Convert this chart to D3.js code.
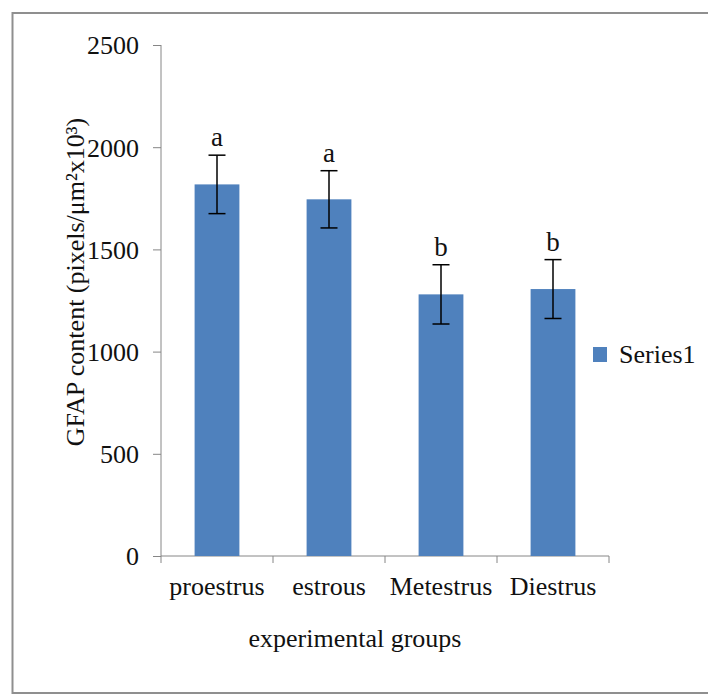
<!DOCTYPE html>
<html>
<head>
<meta charset="utf-8">
<script src="https://cdn.jsdelivr.net/npm/d3@7"></script>
<style>
  html, body { margin: 0; padding: 0; background: #fff; }
  svg { display: block; }
  svg text { font-family: "Liberation Serif", "DejaVu Serif", serif !important; fill: #111; }
</style>
</head>
<body>
<div id="chart"></div>
<script>
// data
const groups = ["proestrus", "estrous", "Metestrus", "Diestrus"]
const means = [1818, 1745, 1280, 1306]
const errors = [143, 140, 145, 144]
const letters = ["a", "a", "b", "b"]
const yTicks = [0, 500, 1000, 1500, 2000, 2500]
const seriesName = "Series1"

const width = 708, height = 695
const plot = { left: 161, right: 609, top: 45, bottom: 556 }
const serif = "Liberation Serif, serif"

const svg = d3.select("#chart").append("svg")
    .attr("width", width)
    .attr("height", height)
    .attr("font-family", serif)

// outer frame
svg.append("rect")
    .attr("x", 12.5).attr("y", 13)
    .attr("width", 720).attr("height", 680)
    .attr("fill", "none")
    .attr("stroke", "#8f8f8f")
    .attr("stroke-width", 2)

const x = d3.scaleBand()
    .domain(groups)
    .range([plot.left, plot.right])

const y = d3.scaleLinear()
    .domain([0, 2500])
    .range([plot.bottom, plot.top])

const barW = x.bandwidth() / 2.5
const barColor = "#4f81bd"

// y axis
svg.append("g")
    .attr("transform", `translate(${plot.left},0)`)
    .call(d3.axisLeft(y).tickValues(yTicks).tickSize(8).tickPadding(14).tickFormat(d3.format("d")))
    .attr("font-family", serif)
    .attr("font-size", 26)
    .call(g => g.select(".domain").attr("stroke", "#868686").attr("d", `M0,${plot.top}V${plot.bottom}`))
    .call(g => g.selectAll(".tick line").attr("stroke", "#868686"))
    .call(g => g.selectAll(".tick text")
        .attr("fill", "#111")
        .attr("dy", "0.34em"))

// x axis: ticks sit on the category boundaries
const boundaries = groups.map(d => x(d)).concat([plot.right])
const xAxis = svg.append("g")
xAxis.append("line")
    .attr("x1", plot.left).attr("x2", plot.right)
    .attr("y1", plot.bottom).attr("y2", plot.bottom)
    .attr("stroke", "#868686")
xAxis.selectAll("line.tick")
    .data(boundaries)
    .join("line")
    .attr("class", "tick")
    .attr("x1", d => d).attr("x2", d => d)
    .attr("y1", plot.bottom).attr("y2", plot.bottom + 7)
    .attr("stroke", "#868686")
xAxis.selectAll("text")
    .data(groups)
    .join("text")
    .attr("x", d => x(d) + x.bandwidth() / 2)
    .attr("y", 595)
    .attr("text-anchor", "middle")
    .attr("font-size", 26)
    .text(d => d)

// bars
svg.selectAll("rect.bar")
    .data(groups)
    .join("rect")
    .attr("class", "bar")
    .attr("x", d => x(d) + (x.bandwidth() - barW) / 2)
    .attr("width", barW)
    .attr("y", (d, i) => y(means[i]))
    .attr("height", (d, i) => y(0) - y(means[i]))
    .attr("fill", barColor)

// error bars
const cap = 8.5
const eb = svg.selectAll("g.err")
    .data(groups)
    .join("g")
    .attr("class", "err")
    .attr("transform", d => `translate(${x(d) + x.bandwidth() / 2},0)`)
eb.append("line")
    .attr("y1", (d, i) => y(means[i] + errors[i]))
    .attr("y2", (d, i) => y(means[i] - errors[i]))
    .attr("stroke", "#000").attr("stroke-width", 1.5)
eb.append("line")
    .attr("x1", -cap).attr("x2", cap)
    .attr("y1", (d, i) => y(means[i] + errors[i]))
    .attr("y2", (d, i) => y(means[i] + errors[i]))
    .attr("stroke", "#000").attr("stroke-width", 1.5)
eb.append("line")
    .attr("x1", -cap).attr("x2", cap)
    .attr("y1", (d, i) => y(means[i] - errors[i]))
    .attr("y2", (d, i) => y(means[i] - errors[i]))
    .attr("stroke", "#000").attr("stroke-width", 1.5)

// significance letters
eb.append("text")
    .attr("y", (d, i) => y(means[i] + errors[i]) - 9)
    .attr("text-anchor", "middle")
    .attr("font-size", 27)
    .text((d, i) => letters[i])

// axis titles
svg.append("text")
    .attr("transform", "translate(84,282) rotate(-90)")
    .attr("text-anchor", "middle")
    .attr("font-size", 26)
    .text("GFAP content (pixels/μm²x10³)")

svg.append("text")
    .attr("x", 355)
    .attr("y", 647)
    .attr("text-anchor", "middle")
    .attr("font-size", 26)
    .text("experimental groups")

// legend
svg.append("rect")
    .attr("x", 593).attr("y", 347)
    .attr("width", 14).attr("height", 15)
    .attr("fill", barColor)
svg.append("text")
    .attr("x", 619).attr("y", 363)
    .attr("font-size", 26)
    .text(seriesName)
</script>
</body>
</html>
